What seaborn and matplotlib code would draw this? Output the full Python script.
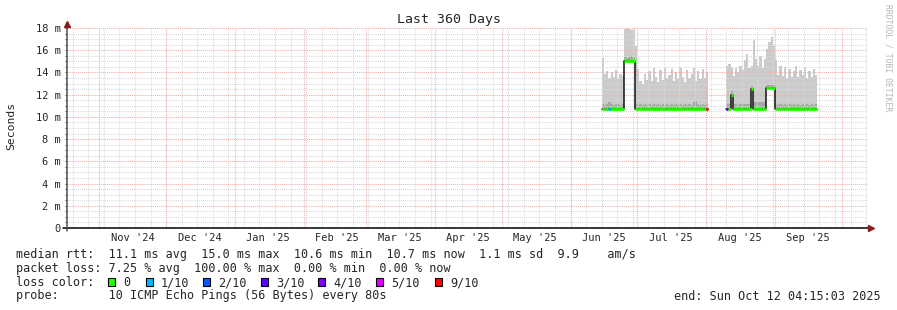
import numpy as np
import pandas as pd
import matplotlib
matplotlib.use("Agg")
import matplotlib.pyplot as plt
import matplotlib.dates as mdates
from matplotlib.patches import Rectangle
import seaborn as sns

# ---------------- data ----------------
title = "Last 360 Days"
y_label = "Seconds"
range_start = "2024-10-17 04:15:03"
range_end = "2025-10-12 04:15:03"

month_labels = ["Nov '24", "Dec '24", "Jan '25", "Feb '25", "Mar '25", "Apr '25",
                "May '25", "Jun '25", "Jul '25", "Aug '25", "Sep '25"]
month_label_dates = ["2024-11-16", "2024-12-16", "2025-01-16", "2025-02-16", "2025-03-16",
                     "2025-04-16", "2025-05-16", "2025-06-16", "2025-07-16", "2025-08-16",
                     "2025-09-16"]

y_ticks = [0, 2, 4, 6, 8, 10, 12, 14, 16, 18]
y_tick_labels = ["0", "2 m", "4 m", "6 m", "8 m", "10 m", "12 m", "14 m", "16 m", "18 m"]

loss_labels = ["0", "1/10", "2/10", "3/10", "4/10", "5/10", "9/10"]
loss_colors = ["#26ff00", "#00b8ff", "#0059ff", "#5e00ff", "#7e00ff", "#dd00ff", "#ff0000"]

# segment 1 (daily bins from 2025-06-15), values in ms
seg1_start = "2025-06-15"
seg1_max = [15.3, 13.9, 14.1, 13.5, 14.0, 13.6, 14.2, 13.4, 13.9, 13.7,
            17.9, 18.0, 17.9, 17.8, 17.9,
            16.4, 14.3, 13.2, 13.0, 13.9, 13.3, 14.1, 13.2, 14.4, 13.6,
            13.1, 14.2, 13.3, 14.5, 13.5, 13.8, 14.3, 13.2, 14.0, 13.4,
            14.4, 13.6, 13.1, 14.2, 13.5, 13.9, 14.4, 13.2, 14.1, 13.4,
            14.3, 13.5, 14.0]
seg1_dense = [11.2, 11.1, 11.2, 11.3, 11.2, 11.1, 11.2, 11.2, 11.1, 11.2,
              15.4, 15.3, 15.4, 15.5, 15.4,
              11.2, 11.1, 11.2, 11.1, 11.2, 11.1, 11.2, 11.1, 11.2, 11.1,
              11.2, 11.1, 11.2, 11.1, 11.2, 11.1, 11.2, 11.1, 11.2, 11.1,
              11.2, 11.1, 11.2, 11.1, 11.2, 11.1, 11.3, 11.4, 11.2, 11.1,
              11.2, 11.1, 11.2]
seg1_median = [10.7, 10.7, 10.7, 10.7, 10.7, 10.7, 10.7, 10.7, 10.7, 10.7,
               15.0, 15.0, 15.0, 15.0, 15.0,
               10.7, 10.7, 10.7, 10.7, 10.7, 10.7, 10.7, 10.7, 10.7, 10.7,
               10.7, 10.7, 10.7, 10.7, 10.7, 10.7, 10.7, 10.7, 10.7, 10.7,
               10.7, 10.7, 10.7, 10.7, 10.7, 10.7, 10.7, 10.7, 10.7, 10.7,
               10.7, 10.7, 10.7]
seg1_loss = [0, 0, 0, 1, 0, 0, 0, 0, 0, 0,
             0, 0, 0, 0, 0,
             0, 0, 0, 0, 0, 0, 0, 0, 0, 0,
             0, 0, 0, 0, 0, 0, 0, 0, 0, 0,
             0, 0, 0, 0, 0, 0, 0, 0, 0, 0,
             0, 0, 6]

# segment 2 (daily bins from 2025-08-10)
seg2_start = "2025-08-10"
seg2_max = [14.6, 14.8, 14.5, 13.7, 14.4, 14.0, 14.6, 14.2, 15.1, 15.7,
            14.4, 14.6, 16.9, 15.2, 14.6, 15.5, 14.4, 15.2, 16.1, 16.7,
            17.2, 16.4, 15.1, 13.8, 14.6, 13.7, 14.5, 13.5, 14.3, 13.6,
            14.1, 14.6, 13.6, 14.2, 13.8, 14.4, 13.5, 14.1, 13.6, 14.3,
            13.8]
seg2_dense = [11.2, 11.2, 12.3, 11.2, 11.2, 11.1, 11.2, 11.2, 11.2, 11.2,
              11.2, 12.8, 11.3, 11.3, 11.3, 11.3, 11.3, 11.3, 12.9, 12.9,
              12.9, 12.9, 11.2, 11.1, 11.2, 11.1, 11.2, 11.1, 11.2, 11.1,
              11.2, 11.1, 11.2, 11.1, 11.2, 11.1, 11.2, 11.1, 11.2, 11.1,
              11.2]
seg2_median = [10.7, 10.7, 12.0, 10.7, 10.7, 10.7, 10.7, 10.7, 10.7, 10.7,
               10.7, 12.5, 10.7, 10.7, 10.7, 10.7, 10.7, 10.7, 12.6, 12.6,
               12.6, 12.6, 10.7, 10.7, 10.7, 10.7, 10.7, 10.7, 10.7, 10.7,
               10.7, 10.7, 10.7, 10.7, 10.7, 10.7, 10.7, 10.7, 10.7, 10.7,
               10.7]
seg2_loss = [3, 0, 0, 0, 0, 0, 0, 0, 0, 0,
             0, 0, 0, 0, 0, 0, 0, 0, 0, 0,
             0, 0, 0, 0, 0, 0, 0, 0, 0, 0,
             0, 0, 0, 0, 0, 0, 0, 0, 0, 0,
             0]

legend_rows = [
    "median rtt:  11.1 ms avg  15.0 ms max  10.6 ms min  10.7 ms now  1.1 ms sd  9.9    am/s",
    "packet loss: 7.25 % avg  100.00 % max  0.00 % min  0.00 % now",
    "loss color:",
    "probe:       10 ICMP Echo Pings (56 Bytes) every 80s",
]
end_text = "end: Sun Oct 12 04:15:03 2025"
credit = "RRDTOOL / TOBI OETIKER"

# ---------------- style ----------------
sns.set_theme(style="white")
MONO = ["DejaVu Sans Mono"]
plt.rcParams["font.family"] = MONO

W, H = 897, 310
def fx(px):
    return px / W
def fy(py):
    return 1 - py / H

fig = plt.figure(figsize=(W / 100, H / 100), dpi=100)
fig.patch.set_facecolor("white")
ax = fig.add_axes([fx(66.5), fy(228), 800 / W, 200 / H])
ax.set_facecolor("white")
for s in ax.spines.values():
    s.set_visible(False)

x0 = mdates.date2num(pd.Timestamp(range_start))
x1 = mdates.date2num(pd.Timestamp(range_end))
ax.set_xlim(x0, x1)
ax.set_ylim(0, 18)

SMOKE = "#cbcbcb"
DENSE = "#a8a8a8"
GRID_MINOR = "#dadada"
GRID_MAJOR = "#f4adad"
dash = (0, (1, 1))

# ---- smoke + median ----
segments = [
    (seg1_start, seg1_max, seg1_dense, seg1_median, seg1_loss),
    (seg2_start, seg2_max, seg2_dense, seg2_median, seg2_loss),
]
for start, smax, sdense, smed, sloss in segments:
    days = pd.date_range(start, periods=len(smax), freq="D")
    left = mdates.date2num(days)
    smax = np.asarray(smax)
    sdense = np.asarray(sdense)
    smed = np.asarray(smed)
    ax.bar(left, smax - smed, bottom=smed, width=1.0, align="edge",
           color=SMOKE, linewidth=0, zorder=2)
    ax.bar(left, sdense - smed, bottom=smed, width=1.0, align="edge",
           color=DENSE, linewidth=0, zorder=2.1)
    edges = np.append(left, left[-1] + 1.0)
    vals = np.append(smed, smed[-1])
    sns.lineplot(x=edges, y=vals, drawstyle="steps-post", color="#111111",
                 linewidth=1.1, estimator=None, ax=ax, zorder=4)
    ax.hlines(smed, left, left + 1.0, colors=[loss_colors[i] for i in sloss],
              linewidth=2.2, zorder=5)

# ---- grid (drawn over the smoke, like rrdtool) ----
for v in np.arange(0.5, 18.01, 0.5):
    if v % 2 != 0:
        ax.axhline(v, color=GRID_MINOR, lw=0.75, ls=dash, zorder=3)
weeks = pd.date_range(pd.Timestamp(range_start).normalize(), range_end, freq="W-SUN")
for d in weeks:
    ax.axvline(mdates.date2num(d), color=GRID_MINOR, lw=0.75, ls=dash, zorder=3)
for v in y_ticks[1:]:
    ax.axhline(v, color=GRID_MAJOR, lw=0.75, ls=dash, zorder=3.1)
months = pd.date_range(pd.Timestamp(range_start).normalize(), range_end, freq="MS")
for d in months:
    ax.axvline(mdates.date2num(d), color=GRID_MAJOR, lw=0.75, ls=dash, zorder=3.1)

# ---- ticks ----
ax.set_xticks(mdates.date2num(pd.to_datetime(month_label_dates)))
ax.set_xticklabels(month_labels, fontsize=7.5, family=MONO)
ax.tick_params(axis="x", length=0, pad=3.5)
ax.set_yticks(y_ticks)
ax.set_yticklabels(y_tick_labels, fontsize=7.5, family=MONO)
ax.set_yticks(np.arange(0, 18.01, 0.5), minor=True)
ax.tick_params(axis="y", which="both", left=True, length=1.6, width=0.7,
               color="#555555", pad=2.6)
ax.grid(False)

# ---- axis lines with arrows ----
ax.plot([(63 - 66.5) / 800, (870 - 66.5) / 800], [0, 0], transform=ax.transAxes,
        color="#000000", lw=1.1, clip_on=False, zorder=6)
ax.plot([0, 0], [-3 / 200, (228 - 24) / 200], transform=ax.transAxes,
        color="#505050", lw=1.1, clip_on=False, zorder=6)
ax.plot([(871 - 66.5) / 800], [0], transform=ax.transAxes, marker=">",
        markersize=4.2, color="#8e1b1b", clip_on=False, zorder=7)
ax.plot([0], [(228 - 23.5) / 200], transform=ax.transAxes, marker="^",
        markersize=4.2, color="#8e1b1b", clip_on=False, zorder=7)

# ---- texts ----
fig.text(0.5, fy(19), title, ha="center", va="center", fontsize=9.5, family=MONO)
fig.text(fx(11), fy(126), y_label, rotation=90, ha="center", va="center",
         fontsize=8.2, family=MONO)
fig.text(fx(888), fy(4), credit, rotation=270, ha="center", va="top",
         fontsize=5.8, color="#b5b5b5", family=MONO)

row_y = [254.5, 268.5, 282.5, 296]
for txt, yy in zip(legend_rows, row_y):
    fig.text(fx(16), fy(yy), txt, ha="left", va="center", fontsize=8.5, family=MONO)

box_x = [108, 146, 203, 261, 318, 376, 435]
for bx, lab, col in zip(box_x, loss_labels, loss_colors):
    fig.patches.append(Rectangle((fx(bx), fy(286)), 7 / W, 8 / H, transform=fig.transFigure,
                                 facecolor=col, edgecolor="black", lw=0.8))
    fig.text(fx(bx + 15), fy(282.5), lab, ha="left", va="center", fontsize=8.5, family=MONO)

fig.text(fx(881), fy(296), end_text, ha="right", va="center", fontsize=8.5, family=MONO)

fig.savefig("out.png", dpi=100, facecolor="white")
